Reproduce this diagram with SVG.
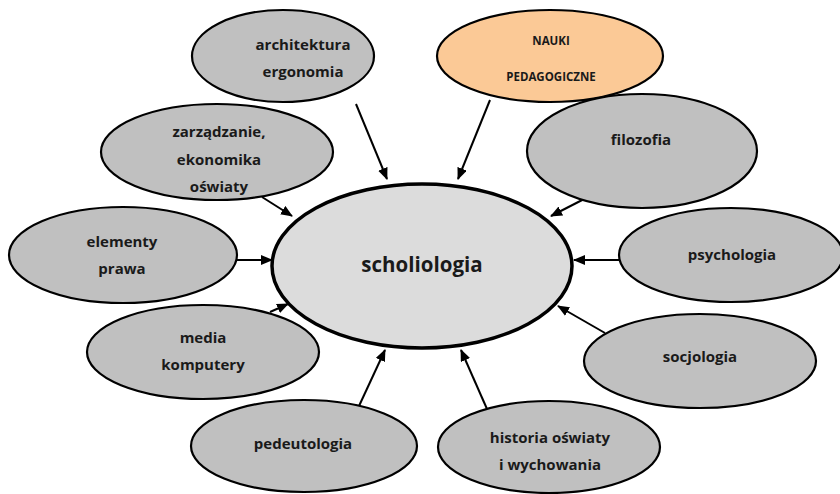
<svg xmlns="http://www.w3.org/2000/svg" width="840" height="494" viewBox="0 0 840 494">
  <style>
    .node { fill: #c0c0c0; stroke: #000; stroke-width: 2.2; }
    .hub { fill: #dcdcdc; stroke: #000; stroke-width: 3.5; }
    .accent { fill: #fbc996; }
    .lbl { font-family: "Open Sans", "Noto Sans", sans-serif; font-weight: bold; font-size: 15px; fill: #1a1a1a; text-anchor: middle; dominant-baseline: central; }
    .small { font-size: 11.5px; }
    .big { font-size: 20.5px; }
    .edge { stroke: #000; stroke-width: 2; fill: none; marker-end: url(#arr); }
  </style>
  <defs>
    <marker id="arr" viewBox="0 0 12 10" refX="11" refY="5" markerWidth="12" markerHeight="10" markerUnits="userSpaceOnUse" orient="auto">
      <path d="M0,0 L12,5 L0,10 Z" fill="#000"/>
    </marker>
  </defs>

  <g id="connectors">
    <line class="edge" x1="356" y1="104" x2="387" y2="179"/>
    <line class="edge" x1="490" y1="100" x2="458" y2="179"/>
    <line class="edge" x1="262" y1="197" x2="292" y2="216"/>
    <line class="edge" x1="590" y1="196" x2="551" y2="216"/>
    <line class="edge" x1="237" y1="260" x2="272" y2="260"/>
    <line class="edge" x1="619" y1="260" x2="574" y2="260"/>
    <line class="edge" x1="270" y1="312" x2="288" y2="304"/>
    <line class="edge" x1="605" y1="333" x2="558" y2="306"/>
    <line class="edge" x1="359" y1="406" x2="385" y2="350"/>
    <line class="edge" x1="487" y1="409" x2="461" y2="350"/>
  </g>

  <g id="scholiologia">
    <ellipse class="hub" cx="422" cy="266" rx="150" ry="82"/>
    <text class="lbl big" x="422" y="264">scholiologia</text>
  </g>

  <g id="architektura">
    <ellipse class="node" cx="283" cy="56" rx="91" ry="46"/>
    <text class="lbl" x="303" y="44">architektura</text>
    <text class="lbl" x="303" y="71">ergonomia</text>
  </g>

  <g id="nauki-pedagogiczne">
    <ellipse class="node accent" cx="550" cy="56" rx="113" ry="46"/>
    <text class="lbl small" x="551" y="40">NAUKI</text>
    <text class="lbl small" x="551" y="76">PEDAGOGICZNE</text>
  </g>

  <g id="zarzadzanie">
    <ellipse class="node" cx="217" cy="152" rx="116" ry="48"/>
    <text class="lbl" x="219" y="131">zarządzanie,</text>
    <text class="lbl" x="219" y="159">ekonomika</text>
    <text class="lbl" x="219" y="186">oświaty</text>
  </g>

  <g id="filozofia">
    <ellipse class="node" cx="642" cy="151" rx="115" ry="57"/>
    <text class="lbl" x="641" y="139">filozofia</text>
  </g>

  <g id="elementy-prawa">
    <ellipse class="node" cx="123" cy="255" rx="114" ry="48"/>
    <text class="lbl" x="122" y="241">elementy</text>
    <text class="lbl" x="122" y="268">prawa</text>
  </g>

  <g id="psychologia">
    <ellipse class="node" cx="731" cy="255" rx="112" ry="47"/>
    <text class="lbl" x="732" y="254">psychologia</text>
  </g>

  <g id="media-komputery">
    <ellipse class="node" cx="203" cy="352" rx="116" ry="47"/>
    <text class="lbl" x="203" y="337">media</text>
    <text class="lbl" x="203" y="364">komputery</text>
  </g>

  <g id="socjologia">
    <ellipse class="node" cx="700" cy="361" rx="116" ry="47"/>
    <text class="lbl" x="700" y="356">socjologia</text>
  </g>

  <g id="pedeutologia">
    <ellipse class="node" cx="304" cy="446" rx="113" ry="46"/>
    <text class="lbl" x="303" y="443">pedeutologia</text>
  </g>

  <g id="historia">
    <ellipse class="node" cx="549" cy="447" rx="111" ry="46"/>
    <text class="lbl" x="550" y="437">historia oświaty</text>
    <text class="lbl" x="550" y="464">i wychowania</text>
  </g>
</svg>
